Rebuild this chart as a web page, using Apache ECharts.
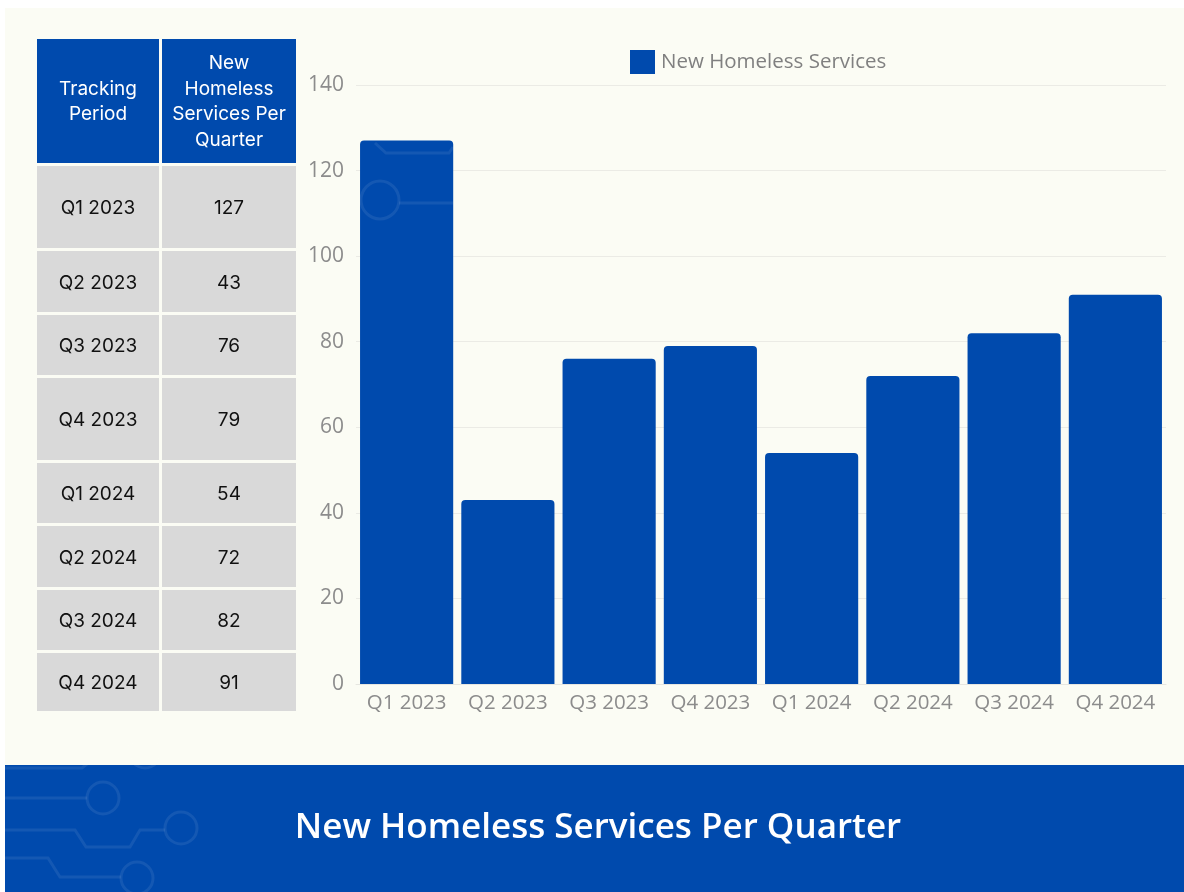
<!DOCTYPE html>
<html><head><meta charset="utf-8">
<script src="https://cdn.jsdelivr.net/npm/echarts@6/dist/echarts.min.js"></script>
<style>html,body{margin:0;padding:0;background:#fff}#c{width:1184px;height:892px}</style>
</head><body><div id="c"></div>
<script>
const categories = ['Q1 2023','Q2 2023','Q3 2023','Q4 2023','Q1 2024','Q2 2024','Q3 2024','Q4 2024'];
const values = [127, 43, 76, 79, 54, 72, 82, 91];
const seriesName = 'New Homeless Services';
const yTicks = [0, 20, 40, 60, 80, 100, 120, 140];
const tableHeaders = ['Tracking\nPeriod', 'New\nHomeless\nServices Per\nQuarter'];
const tableLabels = ['Q1 2023','Q2 2023','Q3 2023','Q4 2023','Q1 2024','Q2 2024','Q3 2024','Q4 2024'];
const titleText = 'New Homeless Services Per Quarter';

const BLUE = '#004aad';
const BG = '#fbfcf4';
const chart = echarts.init(document.getElementById('c'));

// table layout
const colX = [[37,159],[162,296]];
const headY = [39,163];
const rowY = [[166,248],[251,312],[315,375],[378,460],[463,523],[526,587],[590,650],[653,711]];

const g = [];
g.push({type:'rect', shape:{x:5,y:8,width:1179,height:884}, style:{fill:BG}, z:-10, silent:true});
// header
colX.forEach((c,i)=>{
  g.push({type:'rect', shape:{x:c[0],y:headY[0],width:c[1]-c[0],height:headY[1]-headY[0]}, style:{fill:BLUE}, z:1});
  g.push({type:'text', x:(c[0]+c[1])/2, y:(headY[0]+headY[1])/2 + 1, style:{text:tableHeaders[i], fill:'#fff', font:'19px Inter', align:'center', verticalAlign:'middle', lineHeight:25.5}, z:2});
});
rowY.forEach((r,j)=>{
  const texts = [tableLabels[j], String(values[j])];
  colX.forEach((c,i)=>{
    g.push({type:'rect', shape:{x:c[0],y:r[0],width:c[1]-c[0],height:r[1]-r[0]}, style:{fill:'#d9d9d9'}, z:1});
    g.push({type:'text', x:(c[0]+c[1])/2, y:(r[0]+r[1])/2 + 1.5, style:{text:texts[i], fill:'#111', font:'19px Inter', align:'center', verticalAlign:'middle'}, z:2});
  });
});
// banner
g.push({type:'rect', shape:{x:5,y:765,width:1179,height:127}, style:{fill:BLUE}, z:1});
const deco = 'rgba(255,255,255,0.08)';
const lineStyle = {stroke:deco, lineWidth:3, fill:null};
g.push({type:'polyline', shape:{points:[[5,768],[82,768],[92,760]]}, style:lineStyle, z:2});
g.push({type:'circle', shape:{cx:145,cy:752,r:16}, style:lineStyle, z:2});
g.push({type:'polyline', shape:{points:[[5,798],[87,798]]}, style:lineStyle, z:2});
g.push({type:'circle', shape:{cx:103,cy:798,r:16}, style:lineStyle, z:2});
g.push({type:'polyline', shape:{points:[[5,830],[75,830],[86,847],[130,847],[140,830],[165,830]]}, style:lineStyle, z:2});
g.push({type:'circle', shape:{cx:181,cy:828,r:16}, style:lineStyle, z:2});
g.push({type:'polyline', shape:{points:[[5,858],[48,858],[60,877],[121,877]]}, style:lineStyle, z:2});
g.push({type:'circle', shape:{cx:137,cy:878,r:16}, style:lineStyle, z:2});
// decoration on first bar
g.push({type:'polyline', shape:{points:[[375,143],[386,153],[449,153],[453,147]]}, style:lineStyle, z:100});
g.push({type:'circle', shape:{cx:380,cy:200,r:19}, style:lineStyle, z:100});
g.push({type:'polyline', shape:{points:[[399,203],[453,203]]}, style:lineStyle, z:100});
g.push({type:'text', x:598, y:828, style:{text:titleText, fill:'#fff', font:'600 35px "Open Sans"', align:'center', verticalAlign:'middle'}, z:3});

chart.setOption({
  backgroundColor: 'transparent',
  animation: false,
  graphic: g,
  legend: {
    data:[seriesName], left:625, top:45, itemWidth:25, itemHeight:24, itemGap:8,
    icon:'rect',
    textStyle:{fontFamily:'Open Sans', fontSize:20.5, color:'#808080', padding:[0,0,0,1]}
  },
  grid: {left:356, right:18, top:85, bottom:208, containLabel:false},
  xAxis: {
    type:'category', data:categories,
    axisLine:{show:true, lineStyle:{color:'#e6e6e0', width:1}},
    axisTick:{show:false},
    axisLabel:{interval:0, hideOverlap:false, fontFamily:'Open Sans', fontSize:20.5, color:'#8c8c8c', margin:9}
  },
  yAxis: {
    type:'value', min:yTicks[0], max:yTicks[yTicks.length-1], interval:20,
    axisLine:{show:false}, axisTick:{show:false},
    splitLine:{lineStyle:{color:'#ebebe5', width:1}},
    axisLabel:{fontFamily:'Open Sans', fontSize:21, color:'#8c8c8c', margin:12}
  },
  series: [{
    name: seriesName, type:'bar', data: values,
    barCategoryGap:'8%',
    itemStyle:{color:BLUE, borderRadius:[4,4,0,0]}
  }]
});
</script></body></html>
